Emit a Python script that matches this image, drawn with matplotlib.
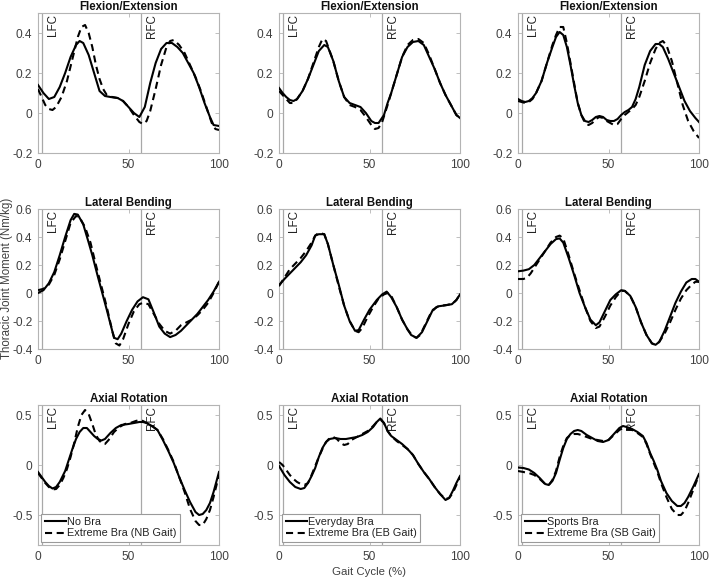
import matplotlib
matplotlib.use("Agg")
import matplotlib.pyplot as plt
from matplotlib.ticker import FuncFormatter

plt.rcParams['font.family'] = ['Liberation Sans', 'DejaVu Sans']
plt.rcParams['axes.unicode_minus'] = False

# ---------------- data ----------------
titles = ["Flexion/Extension", "Lateral Bending", "Axial Rotation"]
solid_labels = ["No Bra", "Everyday Bra", "Sports Bra"]
dashed_labels = ["Extreme Bra (NB Gait)", "Extreme Bra (EB Gait)", "Extreme Bra (SB Gait)"]
lfc_x = 2
rfc_x = 57

# Flexion/Extension
fe_nb_x = [0, 3, 6, 9, 12, 15, 18, 21, 23, 25, 28, 31, 34, 37, 40, 44, 47, 50, 53, 56, 59, 62, 65, 68, 71, 74, 77, 80, 83, 86, 89, 92, 95, 97, 100]
fe_nb_y = [0.14, 0.1, 0.07, 0.08, 0.13, 0.2, 0.28, 0.34, 0.36, 0.35, 0.29, 0.2, 0.11, 0.085, 0.08, 0.075, 0.06, 0.03, 0.0, -0.02, 0.03, 0.15, 0.25, 0.32, 0.35, 0.35, 0.33, 0.3, 0.25, 0.2, 0.13, 0.05, -0.02, -0.06, -0.065]
fe_nbx_x = [0, 2, 4, 6, 8, 10, 13, 16, 19, 22, 24, 26, 28, 30, 32, 34, 36, 38, 41, 44, 47, 50, 53, 56, 58, 60, 62, 65, 68, 71, 73, 75, 78, 81, 84, 87, 90, 93, 96, 98, 100]
fe_nbx_y = [0.12, 0.08, 0.04, 0.02, 0.015, 0.03, 0.08, 0.16, 0.27, 0.38, 0.43, 0.44, 0.4, 0.33, 0.24, 0.17, 0.12, 0.09, 0.08, 0.075, 0.06, 0.03, -0.01, -0.045, -0.055, -0.04, 0.01, 0.12, 0.24, 0.33, 0.36, 0.365, 0.34, 0.3, 0.24, 0.18, 0.11, 0.03, -0.05, -0.08, -0.085]

fe_eb_x = [0, 2, 4, 6, 8, 10, 13, 16, 19, 22, 25, 27, 30, 33, 36, 39, 42, 45, 48, 51, 53, 55, 58, 60, 62, 65, 68, 71, 74, 77, 80, 83, 86, 89, 92, 95, 98, 100]
fe_eb_y = [0.125, 0.1, 0.08, 0.065, 0.06, 0.07, 0.11, 0.17, 0.24, 0.31, 0.34, 0.33, 0.26, 0.16, 0.08, 0.05, 0.04, 0.03, 0.0, -0.04, -0.05, -0.05, -0.01, 0.05, 0.1, 0.19, 0.28, 0.33, 0.355, 0.36, 0.34, 0.28, 0.22, 0.15, 0.09, 0.04, -0.01, -0.025]
fe_ebx_x = [0, 2, 4, 6, 8, 10, 13, 16, 19, 22, 24, 26, 28, 30, 33, 36, 39, 42, 45, 48, 51, 53, 55, 57, 60, 62, 65, 68, 71, 74, 77, 80, 83, 86, 89, 92, 95, 98, 100]
fe_ebx_y = [0.11, 0.09, 0.07, 0.05, 0.05, 0.07, 0.11, 0.17, 0.25, 0.33, 0.37, 0.36, 0.31, 0.26, 0.16, 0.08, 0.04, 0.03, 0.015, -0.02, -0.06, -0.08, -0.075, -0.045, 0.04, 0.1, 0.19, 0.28, 0.34, 0.365, 0.37, 0.35, 0.29, 0.22, 0.15, 0.09, 0.04, -0.01, -0.025]

fe_sb_x = [0, 2, 4, 6, 8, 10, 13, 16, 19, 21, 23, 25, 27, 29, 31, 33, 35, 37, 39, 41, 43, 45, 47, 49, 51, 53, 55, 57, 59, 61, 63, 65, 67, 70, 73, 76, 78, 80, 83, 86, 89, 92, 95, 98, 100]
fe_sb_y = [0.07, 0.06, 0.055, 0.06, 0.075, 0.1, 0.16, 0.25, 0.33, 0.38, 0.405, 0.39, 0.33, 0.24, 0.14, 0.05, -0.01, -0.04, -0.045, -0.035, -0.02, -0.015, -0.02, -0.035, -0.04, -0.04, -0.03, -0.01, 0.005, 0.015, 0.03, 0.07, 0.13, 0.24, 0.31, 0.345, 0.345, 0.33, 0.27, 0.2, 0.13, 0.06, 0.01, -0.025, -0.045]
fe_sbx_x = [0, 2, 4, 6, 8, 10, 13, 16, 19, 21, 23, 25, 27, 29, 31, 33, 35, 37, 39, 41, 43, 45, 47, 49, 51, 53, 55, 57, 59, 61, 63, 65, 67, 70, 73, 76, 78, 80, 82, 85, 88, 91, 94, 97, 100]
fe_sbx_y = [0.06, 0.055, 0.05, 0.055, 0.07, 0.1, 0.16, 0.25, 0.34, 0.39, 0.43, 0.43, 0.35, 0.25, 0.15, 0.05, -0.01, -0.05, -0.06, -0.05, -0.03, -0.02, -0.025, -0.04, -0.05, -0.06, -0.055, -0.03, -0.01, 0.005, 0.02, 0.04, 0.08, 0.16, 0.25, 0.32, 0.35, 0.36, 0.34, 0.26, 0.15, 0.04, -0.04, -0.09, -0.125]

# Lateral Bending
lb_nb_x = [0, 3, 6, 9, 12, 15, 18, 20, 22, 25, 28, 30, 33, 35.5, 38, 40, 42, 44, 46, 49, 52, 55, 58, 61, 64, 67, 70, 73, 76, 79, 82, 85, 88, 91, 94, 97, 100]
lb_nb_y = [0.0, 0.02, 0.07, 0.15, 0.27, 0.4, 0.52, 0.565, 0.56, 0.49, 0.36, 0.27, 0.12, 0.0, -0.12, -0.22, -0.32, -0.33, -0.29, -0.2, -0.12, -0.06, -0.03, -0.045, -0.14, -0.24, -0.29, -0.315, -0.3, -0.27, -0.23, -0.19, -0.15, -0.1, -0.05, 0.01, 0.08]
lb_nbx_x = [0, 3, 6, 9, 12, 15, 18, 21, 23, 26, 29, 32, 35, 38, 41, 43, 45, 47, 50, 53, 56, 58, 61, 64, 67, 70, 73, 76, 79, 82, 85, 88, 91, 94, 97, 100]
lb_nbx_y = [0.02, 0.03, 0.06, 0.13, 0.24, 0.37, 0.5, 0.55, 0.54, 0.47, 0.36, 0.2, 0.05, -0.1, -0.27, -0.36, -0.375, -0.33, -0.22, -0.13, -0.08, -0.07, -0.08, -0.15, -0.22, -0.27, -0.29, -0.27, -0.23, -0.21, -0.19, -0.16, -0.12, -0.07, 0.0, 0.08]

lb_eb_x = [0, 3, 6, 9, 12, 15, 18, 20, 22, 25, 27, 30, 33, 36, 39, 42, 44, 47, 50, 54, 57, 59.5, 62, 65, 68, 71, 73, 76, 79, 82, 85, 88, 91, 95.5, 98, 100]
lb_eb_y = [0.055, 0.1, 0.14, 0.18, 0.22, 0.27, 0.34, 0.41, 0.42, 0.42, 0.35, 0.2, 0.06, -0.09, -0.2, -0.27, -0.265, -0.19, -0.12, -0.05, -0.01, 0.01, -0.03, -0.1, -0.19, -0.26, -0.3, -0.32, -0.28, -0.2, -0.12, -0.095, -0.09, -0.08, -0.05, -0.01]
lb_ebx_x = [0, 3, 6, 9, 12, 15, 18, 20, 22, 25, 27, 30, 33, 36, 39, 42, 44, 46, 49, 52, 55, 58, 60, 62, 65, 68, 71, 74, 76, 78, 81, 84, 87, 90, 93, 96, 98, 100]
lb_ebx_y = [0.05, 0.11, 0.17, 0.21, 0.25, 0.3, 0.36, 0.41, 0.43, 0.42, 0.35, 0.2, 0.05, -0.09, -0.2, -0.27, -0.28, -0.25, -0.17, -0.1, -0.04, -0.01, 0.0, -0.02, -0.1, -0.19, -0.26, -0.31, -0.32, -0.3, -0.22, -0.14, -0.1, -0.09, -0.085, -0.075, -0.05, -0.01]

lb_sb_x = [0, 3, 6, 9, 12, 15, 18, 21, 23, 25, 28, 31, 34, 37, 40, 43, 45, 48, 51, 54, 57, 59, 62, 65, 68, 71, 74, 76, 78, 81, 84, 87, 90, 93, 96, 98, 100]
lb_sb_y = [0.155, 0.16, 0.17, 0.2, 0.25, 0.3, 0.35, 0.385, 0.39, 0.36, 0.25, 0.13, 0.0, -0.1, -0.19, -0.23, -0.21, -0.13, -0.05, -0.01, 0.02, 0.015, -0.02, -0.1, -0.21, -0.3, -0.36, -0.37, -0.35, -0.27, -0.17, -0.07, 0.01, 0.075, 0.1, 0.1, 0.08]
lb_sbx_x = [0, 3, 5, 7, 9, 12, 15, 18, 21, 23, 25, 28, 31, 34, 37, 40, 43, 45, 48, 51, 54, 57, 59, 62, 65, 68, 71, 74, 76, 78, 81, 84, 87, 90, 93, 96, 98, 100]
lb_sbx_y = [0.1, 0.1, 0.11, 0.14, 0.18, 0.24, 0.3, 0.36, 0.4, 0.41, 0.39, 0.27, 0.14, 0.02, -0.1, -0.2, -0.25, -0.24, -0.17, -0.09, -0.03, 0.015, 0.015, -0.02, -0.1, -0.21, -0.3, -0.36, -0.37, -0.35, -0.29, -0.21, -0.12, -0.04, 0.02, 0.06, 0.08, 0.08]

# Axial Rotation
ar_nb_x = [0, 2, 4, 6, 8, 10, 12, 15, 17, 19, 21, 23, 25, 27, 29, 31, 33, 35, 37, 40, 43, 46, 50, 53, 56, 58, 60, 63, 66, 69, 72, 75, 78, 81, 84, 87, 89, 91, 93, 95, 97, 100]
ar_nb_y = [-0.07, -0.12, -0.17, -0.21, -0.235, -0.22, -0.17, -0.06, 0.05, 0.16, 0.26, 0.33, 0.37, 0.37, 0.33, 0.29, 0.26, 0.245, 0.26, 0.32, 0.37, 0.4, 0.41, 0.42, 0.43, 0.43, 0.42, 0.39, 0.35, 0.25, 0.14, 0.02, -0.12, -0.25, -0.37, -0.47, -0.5, -0.49, -0.45, -0.38, -0.27, -0.07]
ar_nbx_x = [0, 2, 4, 6, 8, 10, 12, 14, 16, 18, 20, 22, 24, 26, 28, 30, 32, 34, 36, 37, 39, 42, 45, 48, 51, 54, 56, 58, 60, 63, 66, 69, 72, 75, 78, 81, 84, 87, 89, 91, 93, 95, 97, 100]
ar_nbx_y = [-0.08, -0.13, -0.18, -0.22, -0.245, -0.24, -0.2, -0.13, -0.04, 0.08, 0.22, 0.38, 0.5, 0.55, 0.51, 0.41, 0.3, 0.24, 0.21, 0.21, 0.25, 0.33, 0.38, 0.41, 0.42, 0.44, 0.45, 0.44, 0.42, 0.39, 0.35, 0.26, 0.15, 0.03, -0.12, -0.27, -0.44, -0.56, -0.6, -0.6, -0.54, -0.45, -0.32, -0.1]

ar_eb_x = [0, 3, 6, 9, 12, 14, 16, 18, 20, 22, 24, 26, 28, 31, 34, 37, 40, 43, 46, 49, 52, 54, 56, 58, 60, 62, 65, 68, 71, 74, 77, 80, 83, 86, 89, 92, 94, 96, 98, 100]
ar_eb_y = [-0.01, -0.1, -0.17, -0.22, -0.24, -0.23, -0.18, -0.11, -0.03, 0.08, 0.17, 0.23, 0.26, 0.27, 0.26, 0.26, 0.27, 0.28, 0.3, 0.33, 0.38, 0.43, 0.465, 0.42, 0.34, 0.29, 0.25, 0.21, 0.16, 0.1, 0.01, -0.07, -0.14, -0.22, -0.29, -0.35, -0.33, -0.26, -0.18, -0.11]
ar_ebx_x = [0, 2, 4, 6, 8, 10, 12, 14, 16, 18, 20, 22, 24, 26, 28, 30, 32, 34, 36, 38, 40, 43, 46, 49, 52, 54, 56, 58, 60, 62, 65, 68, 71, 74, 77, 80, 83, 86, 89, 92, 94, 96, 98, 100]
ar_ebx_y = [0.03, 0.0, -0.05, -0.1, -0.14, -0.17, -0.19, -0.2, -0.18, -0.1, -0.01, 0.08, 0.16, 0.23, 0.27, 0.28, 0.26, 0.22, 0.2, 0.21, 0.25, 0.28, 0.31, 0.34, 0.39, 0.43, 0.455, 0.42, 0.34, 0.29, 0.24, 0.2, 0.16, 0.1, 0.01, -0.07, -0.14, -0.22, -0.29, -0.34, -0.33, -0.28, -0.2, -0.12]

ar_sb_x = [0, 3, 6, 9, 12, 15, 17, 19, 21, 23, 25, 27, 29, 31, 33, 35, 38, 41, 44, 47, 50, 53, 56, 58, 60, 63, 66, 69, 71, 73, 75, 77, 79, 82, 85, 88, 90, 92, 94, 97, 100]
ar_sb_y = [-0.025, -0.03, -0.045, -0.08, -0.13, -0.19, -0.2, -0.16, -0.08, 0.05, 0.17, 0.26, 0.31, 0.34, 0.35, 0.34, 0.3, 0.27, 0.24, 0.23, 0.25, 0.31, 0.37, 0.39, 0.38, 0.36, 0.33, 0.29, 0.22, 0.12, 0.04, -0.05, -0.16, -0.28, -0.36, -0.41, -0.41, -0.38, -0.32, -0.21, -0.09]
ar_sbx_x = [0, 3, 6, 9, 12, 15, 17, 19, 21, 23, 25, 27, 29, 31, 33, 35, 38, 41, 44, 47, 50, 53, 56, 58, 60, 63, 66, 69, 71, 73, 75, 77, 79, 82, 85, 88, 90, 92, 94, 97, 100]
ar_sbx_y = [-0.06, -0.07, -0.08, -0.1, -0.14, -0.19, -0.2, -0.15, -0.06, 0.08, 0.19, 0.27, 0.3, 0.31, 0.31, 0.3, 0.28, 0.26, 0.25, 0.24, 0.25, 0.3, 0.35, 0.37, 0.36, 0.35, 0.32, 0.28, 0.21, 0.11, 0.02, -0.07, -0.18, -0.32, -0.44, -0.5, -0.5, -0.46, -0.38, -0.24, -0.1]

rows = [
    [(fe_nb_x, fe_nb_y, fe_nbx_x, fe_nbx_y), (fe_eb_x, fe_eb_y, fe_ebx_x, fe_ebx_y), (fe_sb_x, fe_sb_y, fe_sbx_x, fe_sbx_y)],
    [(lb_nb_x, lb_nb_y, lb_nbx_x, lb_nbx_y), (lb_eb_x, lb_eb_y, lb_ebx_x, lb_ebx_y), (lb_sb_x, lb_sb_y, lb_sbx_x, lb_sbx_y)],
    [(ar_nb_x, ar_nb_y, ar_nbx_x, ar_nbx_y), (ar_eb_x, ar_eb_y, ar_ebx_x, ar_ebx_y), (ar_sb_x, ar_sb_y, ar_sbx_x, ar_sbx_y)],
]
ylims = [(-0.2, 0.5), (-0.4, 0.6), (-0.8, 0.6)]
yticks = [[-0.2, 0, 0.2, 0.4], [-0.4, -0.2, 0, 0.2, 0.4, 0.6], [-0.5, 0, 0.5]]
xticks = [0, 50, 100]

# ---------------- figure ----------------
W, H = 709, 579
fig = plt.figure(figsize=(W / 100, H / 100), dpi=100)
col_left = [38, 279, 518]
row_top = [13, 209, 405]
aw, ah = 181, 140

spine_c = '#b4b4b4'
tick_c = '#404040'
fmt = FuncFormatter(lambda v, p: ('%g' % round(v, 3)))

for r in range(3):
    for c in range(3):
        ax = fig.add_axes([col_left[c] / W, 1 - (row_top[r] + ah) / H, aw / W, ah / H])
        sx, sy, dx, dy = rows[r][c]
        ax.axvline(lfc_x, color='#a8a8a8', lw=0.9, zorder=1)
        ax.axvline(rfc_x, color='#a8a8a8', lw=0.9, zorder=1)
        l1, = ax.plot(sx, sy, color='black', lw=1.5, zorder=3, label=solid_labels[c])
        l2, = ax.plot(dx, dy, color='black', lw=1.5, linestyle=(0, (3.4, 2.2)), zorder=3, label=dashed_labels[c])
        ax.set_xlim(0, 100)
        ax.set_ylim(*ylims[r])
        ax.set_xticks(xticks)
        ax.set_yticks(yticks[r])
        ax.yaxis.set_major_formatter(fmt)
        ax.xaxis.set_major_formatter(fmt)
        ax.tick_params(direction='in', length=3, width=0.6, colors=spine_c,
                       labelcolor=tick_c, labelsize=8.6, top=True, right=True, pad=4)
        for s in ax.spines.values():
            s.set_color(spine_c)
            s.set_linewidth(0.8)
        ax.set_title(titles[r], fontsize=8.3, fontweight='bold', pad=2.5, color='#111111')
        ax.text(lfc_x + 2.8, 0.99, 'LFC', rotation=90, ha='left', va='top', fontsize=8.4,
                color='#222222', transform=ax.get_xaxis_transform(), zorder=2)
        ax.text(rfc_x + 2.6, 0.99, 'RFC', rotation=90, ha='left', va='top', fontsize=8.4,
                color='#222222', transform=ax.get_xaxis_transform(), zorder=2)
        if r == 2:
            leg = ax.legend(handles=[l1, l2], loc='lower left', fontsize=7.8, frameon=True,
                            fancybox=False, edgecolor='#9a9a9a', framealpha=1,
                            handlelength=2.0, handletextpad=0.1, borderpad=0.3,
                            labelspacing=0.15, borderaxespad=0.3)
            leg.get_frame().set_linewidth(0.8)
            for t in leg.get_texts():
                t.set_color('#222222')

fig.text(7 / W, 1 - 278 / H, 'Thoracic Joint Moment (Nm/kg)', rotation=90, ha='center', va='center',
         fontsize=8.3, color='#404040')
fig.text(369 / W, 1 - 572 / H, 'Gait Cycle (%)', ha='center', va='center', fontsize=8.2, color='#404040')

fig.savefig('out.png', dpi=100)
